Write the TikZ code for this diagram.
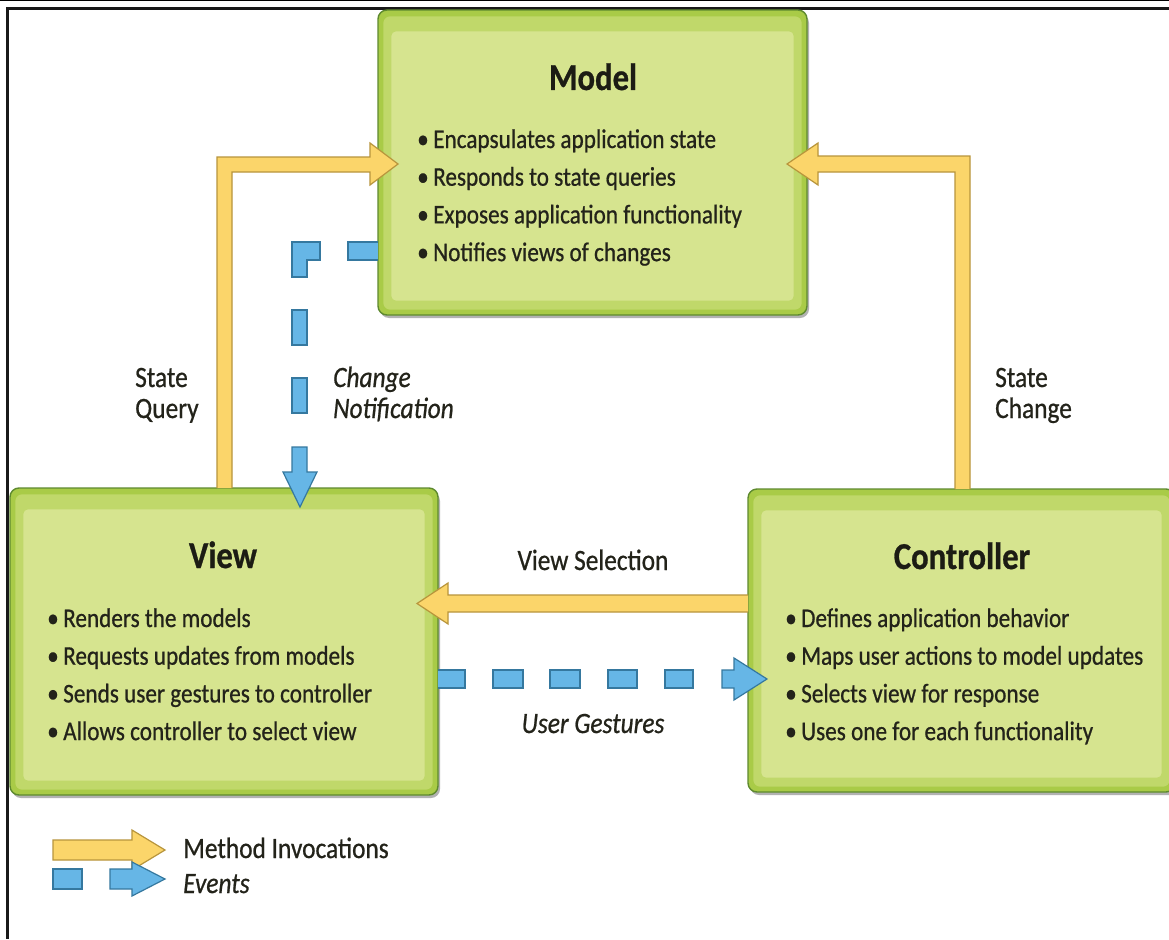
\documentclass[tikz,border=0pt]{standalone}
\usepackage{fontspec}
\setmainfont{Carlito}[FakeStretch=0.86, FakeBold=0.7]
\definecolor{boxedge}{HTML}{5E8A2F}
\definecolor{boxout}{HTML}{A9CB47}
\definecolor{boxmid}{HTML}{C0D86A}
\definecolor{boxin}{HTML}{D6E48F}
\definecolor{titletext}{HTML}{1C1C14}
\definecolor{bodytext}{HTML}{23231A}
\definecolor{ayel}{HTML}{FBD56A}
\definecolor{ayeledge}{HTML}{B8953C}
\definecolor{ablue}{HTML}{66B6E6}
\definecolor{ablueedge}{HTML}{35789F}
\begin{document}
\begin{tikzpicture}[x=1pt,y=-1pt,
  box/.style={draw=boxedge, line width=1.4pt, fill=boxout, rounded corners=9pt, inner sep=0pt},
  boxtitle/.style={anchor=base, font=\fontsize{38}{44}\selectfont\bfseries, text=titletext, inner sep=0pt},
  bul/.style={anchor=base west, font=\fontsize{27}{32}\selectfont, text=bodytext, inner sep=0pt},
  lbl/.style={anchor=base west, font=\fontsize{29.5}{34}\selectfont, text=bodytext, inner sep=0pt},
  clbl/.style={anchor=base, font=\fontsize{29.5}{34}\selectfont, text=bodytext, inner sep=0pt},
  yarrow/.style={fill=ayel, draw=ayeledge, line width=1.2pt, line join=miter},
  barrow/.style={fill=ablue, draw=ablueedge, line width=1.2pt, line join=miter},
  shadow/.style={fill=black!30, rounded corners=9pt},
]
\useasboundingbox (0,0) rectangle (1169,939);
\fill[white] (0,0) rectangle (1169,939);
% frame
\draw[line width=1pt, black] (0,0.5) -- (1169,0.5);
\draw[line width=3pt, black!90] (6,8.5) -- (1169,8.5);
\draw[line width=3pt, black!90] (7.5,8) -- (7.5,939);

% shadows
\fill[shadow] (380,14) rectangle (809,318);
\fill[shadow] (12,492) rectangle (440,798);
\fill[shadow] (750,493) rectangle (1180,795);

% boxes
\node[box, minimum width=429pt, minimum height=305pt] (model) at (592.5,162.5) {};
\node[box, minimum width=428pt, minimum height=307pt] (view) at (224,641.5) {};
\node[box, minimum width=427pt, minimum height=303pt] (ctrl) at (961.5,640.5) {};
\foreach \b in {model,view,ctrl}{
  \fill[boxmid, rounded corners=7pt] ([shift={(6,7)}]\b.north west) rectangle ([shift={(-6,-6)}]\b.south east);
  \fill[boxin, rounded corners=5pt] ([shift={(14,22)}]\b.north west) rectangle ([shift={(-14,-15)}]\b.south east);
}

% titles
\node[boxtitle] (modelt) at (593,90) {Model};
\node[boxtitle] (viewt) at (223,568) {View};
\node[boxtitle] (ctrlt) at (962,569) {Controller};

% bullets
\foreach \t [count=\i] in {Encapsulates application state, Responds to state queries, Exposes application functionality, Notifies views of changes}
  \node[bul] (mb\i) at (417,{148+37.7*(\i-1)}) {\makebox[16pt][l]{\textbullet}\t};
\foreach \t [count=\i] in {Renders the models, Requests updates from models, Sends user gestures to controller, Allows controller to select view}
  \node[bul] (vb\i) at (47,{627+37.7*(\i-1)}) {\makebox[16pt][l]{\textbullet}\t};
\foreach \t [count=\i] in {Defines application behavior, Maps user actions to model updates, Selects view for response, Uses one for each functionality}
  \node[bul] (cb\i) at (785,{627+37.7*(\i-1)}) {\makebox[16pt][l]{\textbullet}\t};

% yellow arrows: State Query (view -> model)
\draw[yarrow] (217,488) -- (217,157) -- (370,157) -- (370,143) -- (398,164) -- (370,185) -- (370,172) -- (232,172) -- (232,488);
% State Change (controller -> model)
\draw[yarrow] (970,489) -- (970,156) -- (818,156) -- (818,143) -- (787,164) -- (818,185) -- (818,172) -- (955,172) -- (955,489);
% View Selection (controller -> view)
\draw[yarrow] (748,595) -- (448,595) -- (448,583) -- (417,603.5) -- (448,624) -- (448,612) -- (748,612);

% blue: change notification (model -> view)
\draw[barrow] (378,242) -- (348,242) -- (348,260) -- (378,260);
\draw[barrow] (292,242) -- (320,242) -- (320,260) -- (307,260) -- (307,277) -- (292,277) -- cycle;
\draw[barrow] (292,310) rectangle (307,345);
\draw[barrow] (292,378) rectangle (307,413);
\draw[barrow] (292,447) -- (307,447) -- (307,472) -- (317,472) -- (300,507) -- (283,472) -- (292,472) -- cycle;

% blue: user gestures (view -> controller)
\draw[barrow] (438,670) -- (465,670) -- (465,688) -- (438,688);
\foreach \xa/\xb in {493/523, 550/580, 608/637, 665/693}
  \draw[barrow] (\xa,670) rectangle (\xb,688);
\draw[barrow] (722,670) -- (734,670) -- (734,658) -- (767,679) -- (734,700) -- (734,688) -- (722,688) -- cycle;

% labels
\node[lbl] (sq1) at (135,387) {State};
\node[lbl] (sq2) at (135,418) {Query};
\node[lbl] (cn1) at (333,387) {\itshape Change};
\node[lbl] (cn2) at (333,418) {\itshape Notification};
\node[lbl] (sc1) at (995,387) {State};
\node[lbl] (sc2) at (995,418) {Change};
\node[clbl] (vs) at (593,570) {View Selection};
\node[clbl] (ug) at (593,733) {\itshape User Gestures};

% legend
\draw[yarrow] (53,840) -- (132,840) -- (132,830) -- (165,850) -- (132,870) -- (132,860) -- (53,860) -- cycle;
\draw[barrow] (53,869) rectangle (82,889);
\draw[barrow] (110,869) -- (132,869) -- (132,862) -- (165,879) -- (132,896) -- (132,889) -- (110,889) -- cycle;
\node[lbl] (lg1) at (183,858) {Method Invocations};
\node[lbl] (lg2) at (183,893) {\itshape Events};
\end{tikzpicture}
\end{document}
